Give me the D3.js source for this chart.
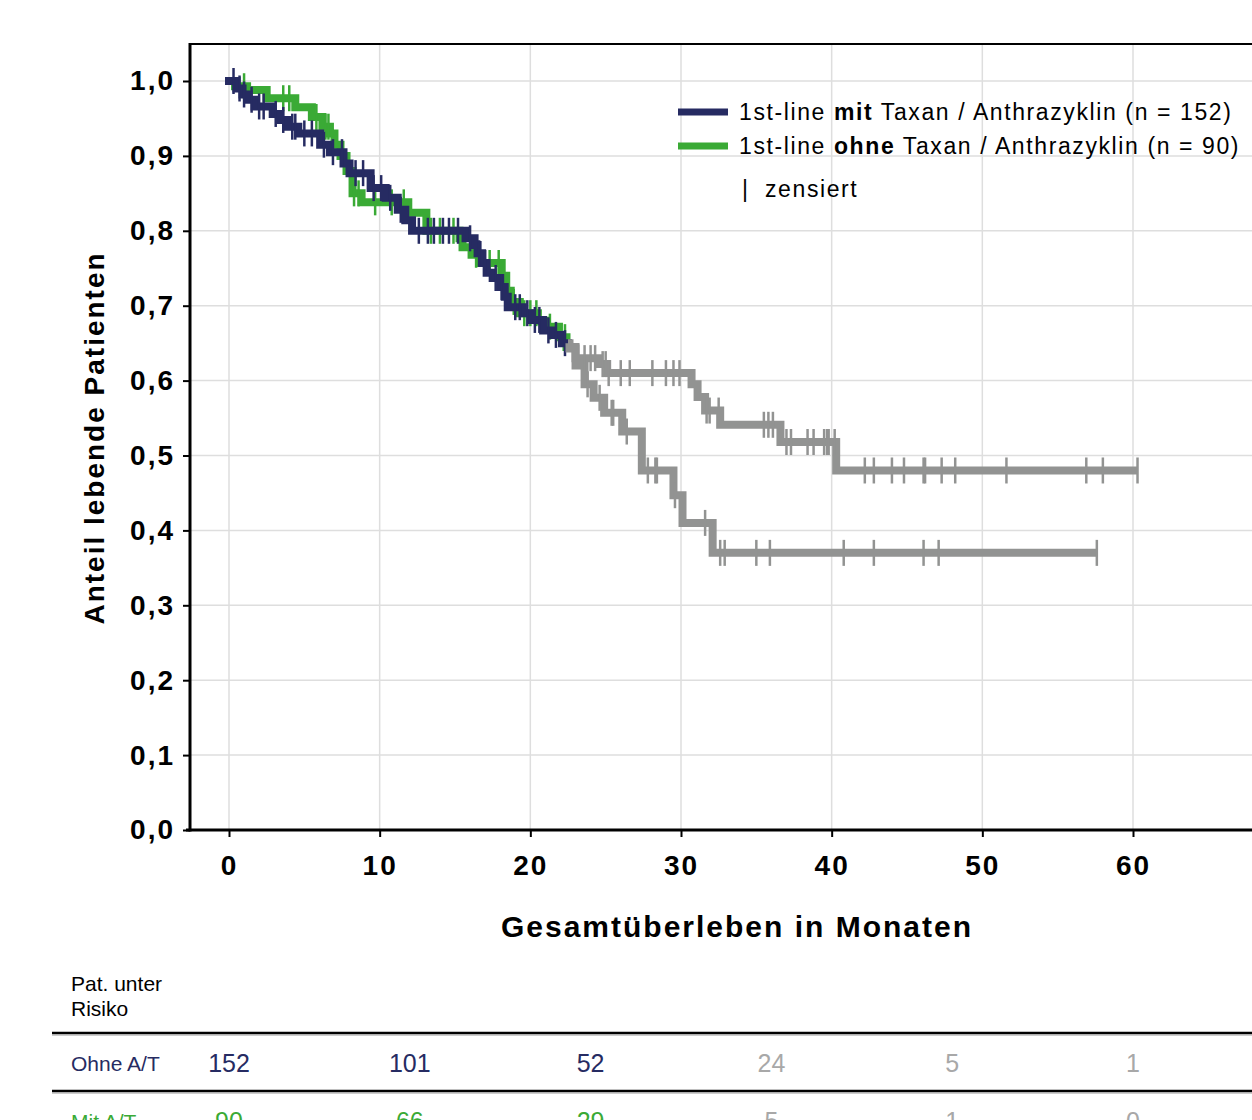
<!DOCTYPE html>
<html lang="de">
<head>
<meta charset="UTF-8">
<title>Gesamtüberleben</title>
<style>
*{margin:0;padding:0;box-sizing:border-box}
body{background:#fff;font-family:'Liberation Sans',Arial,sans-serif}
svg{display:block}
</style>
</head>
<body>
<div id="chart"></div>
<script src="https://cdnjs.cloudflare.com/ajax/libs/d3/7.8.5/d3.min.js"></script>
<script>
// --- data ---
const xTicks = [0, 10, 20, 30, 40, 50, 60];
const yTicks = [0, 0.1, 0.2, 0.3, 0.4, 0.5, 0.6, 0.7, 0.8, 0.9, 1.0];

// navy: 1st-line mit Taxan / Anthrazyklin (n = 152)
const mitTimes = [0, 0.5, 0.9, 1.3, 1.7, 2.9, 3.4, 3.9, 4.6, 6.05, 6.7, 7.6, 8.0, 9.4, 10.4, 11.2, 11.7, 12.15, 15.7, 16.3, 16.5, 16.8, 17.1, 17.5, 18.0, 18.3, 18.5, 19.5, 20.1, 20.85, 21.5, 22.1, 22.6, 23.0, 24.5, 25.1, 30.7, 31.1, 31.6, 32.6, 36.6, 40.3];
const mitSurv  = [1.0, 0.99, 0.982, 0.975, 0.966, 0.956, 0.948, 0.939, 0.93, 0.915, 0.905, 0.89, 0.877, 0.857, 0.844, 0.828, 0.814, 0.80, 0.79, 0.781, 0.77, 0.757, 0.744, 0.737, 0.725, 0.712, 0.698, 0.69, 0.681, 0.667, 0.661, 0.65, 0.643, 0.63, 0.622, 0.61, 0.595, 0.578, 0.56, 0.541, 0.518, 0.48];
const mitEnd = 60.3;
const mitCensored = [0.3, 0.7, 1.0, 1.5, 2.0, 2.3, 3.1, 3.6, 4.2, 4.4, 5.0, 5.5, 6.3, 6.9, 7.5, 8.4, 8.9, 9.6, 10.1, 10.7, 11.4, 12.6, 13.2, 13.6, 14.2, 14.6, 15.2, 16.0, 16.6, 17.0, 17.7, 18.1, 19.0, 19.3, 19.8, 20.3, 20.6, 21.2, 21.7, 22.3,
  23.6, 24.0, 24.3, 24.8, 25.0, 25.2, 26.0, 26.6, 28.1, 29.0, 29.5, 29.9, 31.7, 31.9, 32.5, 35.5, 35.8, 36.1, 37.0, 37.3, 38.4, 38.8, 39.5, 39.7, 39.8, 40.2, 42.2, 42.8, 44.0, 44.8, 46.1, 46.2, 47.3, 48.2, 51.6, 56.9, 58.0, 60.3];

// green: 1st-line ohne Taxan / Anthrazyklin (n = 90)
const ohneTimes = [0, 0.4, 1.2, 2.5, 4.4, 5.5, 6.2, 6.7, 7.0, 7.4, 7.8, 8.2, 8.8, 11.9, 13.1, 15.3, 15.5, 16.1, 16.6, 18.1, 18.4, 18.7, 19.3, 20.5, 21.1, 21.9, 22.4, 23.0, 23.6, 24.2, 24.9, 26.1, 27.4, 29.5, 30.1, 32.1];
const ohneSurv  = [1.0, 0.993, 0.988, 0.977, 0.965, 0.952, 0.939, 0.93, 0.915, 0.9, 0.88, 0.85, 0.838, 0.824, 0.80, 0.79, 0.778, 0.768, 0.757, 0.74, 0.72, 0.705, 0.69, 0.68, 0.672, 0.658, 0.645, 0.62, 0.595, 0.577, 0.557, 0.532, 0.48, 0.447, 0.41, 0.37];
const ohneEnd = 57.6;
const ohneCensored = [1.0, 3.6, 4.0, 5.8, 6.4, 6.6, 8.3, 8.6, 9.7, 10.8, 11.6, 13.4, 14.0, 14.9, 16.4, 17.3, 17.9, 18.9, 19.6, 20.0, 20.4, 21.3, 22.3,
  23.8, 24.6, 25.4, 25.5, 26.4, 27.8, 28.3, 28.4, 29.6, 31.6, 32.6, 32.9, 35.0, 35.9, 40.8, 42.8, 46.1, 47.1, 57.6];

// curves are shown in colour up to this month, grey afterwards
const colourCutoff = 22.5;

// patients at risk
const riskMonths = [0, 12, 24, 36, 48, 60];
const riskOhneAT = [152, 101, 52, 24, 5, 1];
const riskMitAT  = [90, 66, 29, 5, 1, 0];
const riskColouredUpTo = 24;

const NAVY = '#262b62', GREEN = '#3aaa35', GREY = '#929392';

// --- layout ---
const W = 1252, H = 1120;
const plot = {left: 190, top: 44, bottom: 830, right: 1262};

const x = d3.scaleLinear().domain([0, 60]).range([229, 1133]);
const y = d3.scaleLinear().domain([0, 1]).range([830, 81]);

const svg = d3.select('#chart').append('svg')
  .attr('width', W).attr('height', H).attr('viewBox', `0 0 ${W} ${H}`)
  .attr('font-family', "'Liberation Sans',Arial,sans-serif");

// grid
const grid = svg.append('g').attr('stroke', '#dedede').attr('stroke-width', 1.5);
grid.selectAll('.gx').data(xTicks).join('line')
  .attr('x1', d => x(d)).attr('x2', d => x(d)).attr('y1', plot.top).attr('y2', plot.bottom);
grid.selectAll('.gy').data(yTicks.slice(1)).join('line')
  .attr('x1', plot.left).attr('x2', plot.right).attr('y1', d => y(d)).attr('y2', d => y(d));

// frame
svg.append('line').attr('x1', plot.left).attr('x2', plot.right).attr('y1', plot.top).attr('y2', plot.top)
  .attr('stroke', '#000').attr('stroke-width', 2);

// axes
const yAxis = svg.append('g').attr('transform', `translate(${plot.left},0)`)
  .call(d3.axisLeft(y).tickValues(yTicks).tickSize(7).tickFormat(d => d3.format('.1f')(d).replace('.', ',')));
const xAxis = svg.append('g').attr('transform', `translate(0,${plot.bottom})`)
  .call(d3.axisBottom(x).tickValues(xTicks).tickSize(7));
[yAxis, xAxis].forEach(a => {
  a.select('.domain').remove();
  a.selectAll('.tick line').attr('stroke', '#000').attr('stroke-width', 2);
  a.selectAll('text').attr('font-size', 28).attr('font-weight', 'bold').attr('fill', '#000')
    .style('letter-spacing', '2px');
});
yAxis.selectAll('text').attr('x', -15);
xAxis.selectAll('text').attr('y', 25);
svg.append('line').attr('x1', plot.left).attr('x2', plot.left).attr('y1', plot.top - 1).attr('y2', plot.bottom + 1.5)
  .attr('stroke', '#000').attr('stroke-width', 3);
svg.append('line').attr('x1', plot.left - 4).attr('x2', plot.right).attr('y1', plot.bottom).attr('y2', plot.bottom)
  .attr('stroke', '#000').attr('stroke-width', 3);

// axis titles
svg.append('text').attr('x', 737).attr('y', 937).attr('text-anchor', 'middle')
  .attr('font-size', 30).attr('font-weight', 'bold').style('letter-spacing', '2px')
  .text('Gesamtüberleben in Monaten');
svg.append('text').attr('transform', 'translate(104,438) rotate(-90)').attr('text-anchor', 'middle')
  .attr('font-size', 28).attr('font-weight', 'bold').style('letter-spacing', '2px')
  .text('Anteil lebende Patienten');

// --- Kaplan-Meier curves ---
function survAt(times, surv, t) {
  let s = surv[0];
  for (let i = 0; i < times.length; i++) if (times[i] <= t) s = surv[i];
  return s;
}
const step = d3.line().x(d => x(d[0])).y(d => y(d[1])).curve(d3.curveStepAfter);

function drawCurve(times, surv, end, censored, colour, part) {
  const pts = times.map((t, i) => [t, surv[i]]);
  const cutS = survAt(times, surv, colourCutoff);
  let seg, col;
  if (part === 'colour') {
    seg = pts.filter(p => p[0] < colourCutoff).concat([[colourCutoff, cutS]]);
    col = colour;
  } else {
    seg = [[colourCutoff, cutS]].concat(pts.filter(p => p[0] > colourCutoff)).concat([[end, survAt(times, surv, end)]]);
    col = GREY;
  }
  svg.append('path').attr('d', step(seg)).attr('fill', 'none').attr('stroke', col)
    .attr('stroke-width', 8).attr('stroke-linecap', part === 'colour' ? 'square' : 'butt').attr('stroke-linejoin', 'miter');
  const cs = censored.filter(c => part === 'colour' ? c <= colourCutoff : c > colourCutoff);
  svg.append('g').selectAll('line').data(cs).join('line')
    .attr('x1', d => x(d)).attr('x2', d => x(d))
    .attr('y1', d => y(survAt(times, surv, d)) - 13).attr('y2', d => y(survAt(times, surv, d)) + 13)
    .attr('stroke', col).attr('stroke-width', 2.5);
}
drawCurve(ohneTimes, ohneSurv, ohneEnd, ohneCensored, GREEN, 'colour');
drawCurve(mitTimes, mitSurv, mitEnd, mitCensored, NAVY, 'colour');
drawCurve(ohneTimes, ohneSurv, ohneEnd, ohneCensored, GREEN, 'grey');
drawCurve(mitTimes, mitSurv, mitEnd, mitCensored, NAVY, 'grey');

// --- legend ---
const legend = svg.append('g').attr('font-size', 23).style('letter-spacing', '1.6px');
[[NAVY, 'mit', '(n = 152)', 112], [GREEN, 'ohne', '(n = 90)', 146]].forEach(([c, word, n, ly]) => {
  legend.append('line').attr('x1', 678).attr('x2', 728).attr('y1', ly).attr('y2', ly)
    .attr('stroke', c).attr('stroke-width', 7);
  const t = legend.append('text').attr('x', 739).attr('y', ly + 8);
  t.append('tspan').text('1st-line ');
  t.append('tspan').attr('font-weight', 'bold').text(word);
  t.append('tspan').text(' Taxan / Anthrazyklin ' + n);
});
legend.append('text').attr('x', 742).attr('y', 197).text('|');
legend.append('text').attr('x', 765).attr('y', 197).text('zensiert');

// --- patients at risk table ---
const table = svg.append('g');
table.append('text').attr('x', 71).attr('y', 991).attr('font-size', 21).text('Pat. unter');
table.append('text').attr('x', 71).attr('y', 1016).attr('font-size', 21).text('Risiko');
[1033, 1091].forEach(ly => {
  table.append('line').attr('x1', 52).attr('x2', W).attr('y1', ly).attr('y2', ly)
    .attr('stroke', '#000').attr('stroke-width', 2.5);
  table.append('line').attr('x1', 52).attr('x2', W).attr('y1', ly + 2).attr('y2', ly + 2)
    .attr('stroke', '#9a9a9a').attr('stroke-width', 1);
});
[['Ohne A/T', riskOhneAT, NAVY, 1071], ['Mit A/T', riskMitAT, GREEN, 1129]].forEach(([lab, vals, c, ry]) => {
  table.append('text').attr('x', 71).attr('y', ry).attr('font-size', 21).attr('fill', c).text(lab);
  table.selectAll(null).data(vals).join('text')
    .attr('x', (d, i) => x(riskMonths[i])).attr('y', ry + 1).attr('text-anchor', 'middle')
    .attr('font-size', 25).attr('fill', (d, i) => riskMonths[i] <= riskColouredUpTo ? c : '#a8a8a8')
    .text(d => d);
});
</script>
</body>
</html>
